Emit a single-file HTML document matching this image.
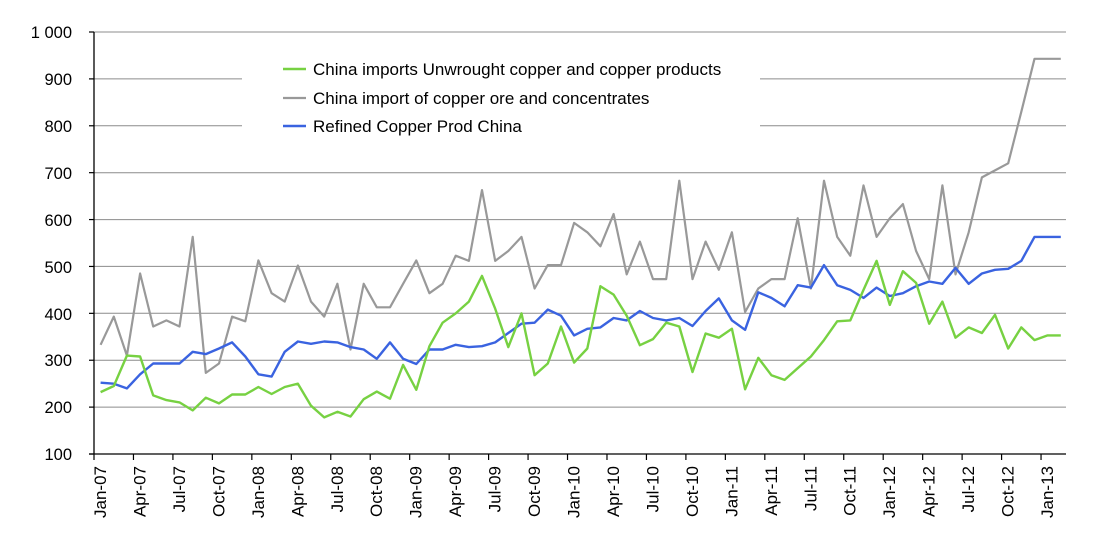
<!DOCTYPE html>
<html><head><meta charset="utf-8"><style>
html,body{margin:0;padding:0;background:#fff;}
svg{display:block;font-family:"Liberation Sans",Arial,sans-serif;}
</style></head><body>
<svg id="s" width="1105" height="557" viewBox="0 0 1105 557">
<g stroke="#8c8c8c" stroke-width="1">
<line x1="94" y1="32" x2="1066" y2="32"/>
<line x1="94" y1="78.9" x2="1066" y2="78.9"/>
<line x1="94" y1="125.8" x2="1066" y2="125.8"/>
<line x1="94" y1="172.7" x2="1066" y2="172.7"/>
<line x1="94" y1="219.6" x2="1066" y2="219.6"/>
<line x1="94" y1="266.4" x2="1066" y2="266.4"/>
<line x1="94" y1="313.3" x2="1066" y2="313.3"/>
<line x1="94" y1="360.2" x2="1066" y2="360.2"/>
<line x1="94" y1="407.1" x2="1066" y2="407.1"/>
</g>
<rect x="242" y="50" width="518" height="86" fill="#fff"/>
<g stroke="#000" stroke-width="1.3">
<line x1="94" y1="32" x2="94" y2="454"/>
<line x1="89" y1="454" x2="1066" y2="454"/>
</g>
<g id="ticks" stroke="#000" stroke-width="1.2"></g>
<g font-size="16.5" text-anchor="end" fill="#000">
<text x="72" y="38">1 000</text>
<text x="72" y="85">900</text>
<text x="72" y="132">800</text>
<text x="72" y="179">700</text>
<text x="72" y="226">600</text>
<text x="72" y="273">500</text>
<text x="72" y="320">400</text>
<text x="72" y="366">300</text>
<text x="72" y="413">200</text>
<text x="72" y="460">100</text>
</g>
<g font-size="17" text-anchor="end" fill="#000" id="xl">
<text transform="translate(106,466) rotate(-90)">Jan-07</text>
<text transform="translate(145.5,466) rotate(-90)">Apr-07</text>
<text transform="translate(184.9,466) rotate(-90)">Jul-07</text>
<text transform="translate(224.4,466) rotate(-90)">Oct-07</text>
<text transform="translate(263.8,466) rotate(-90)">Jan-08</text>
<text transform="translate(303.3,466) rotate(-90)">Apr-08</text>
<text transform="translate(342.8,466) rotate(-90)">Jul-08</text>
<text transform="translate(382.2,466) rotate(-90)">Oct-08</text>
<text transform="translate(421.7,466) rotate(-90)">Jan-09</text>
<text transform="translate(461.1,466) rotate(-90)">Apr-09</text>
<text transform="translate(500.6,466) rotate(-90)">Jul-09</text>
<text transform="translate(540.1,466) rotate(-90)">Oct-09</text>
<text transform="translate(579.5,466) rotate(-90)">Jan-10</text>
<text transform="translate(619,466) rotate(-90)">Apr-10</text>
<text transform="translate(658.4,466) rotate(-90)">Jul-10</text>
<text transform="translate(697.9,466) rotate(-90)">Oct-10</text>
<text transform="translate(737.4,466) rotate(-90)">Jan-11</text>
<text transform="translate(776.8,466) rotate(-90)">Apr-11</text>
<text transform="translate(816.3,466) rotate(-90)">Jul-11</text>
<text transform="translate(855.7,466) rotate(-90)">Oct-11</text>
<text transform="translate(895.2,466) rotate(-90)">Jan-12</text>
<text transform="translate(934.7,466) rotate(-90)">Apr-12</text>
<text transform="translate(974.1,466) rotate(-90)">Jul-12</text>
<text transform="translate(1013.6,466) rotate(-90)">Oct-12</text>
<text transform="translate(1053,466) rotate(-90)">Jan-13</text>
</g>
<polyline id="gr" fill="none" stroke="#999" stroke-width="2.2" stroke-linejoin="round"/>
<polyline id="bl" fill="none" stroke="#3a63e0" stroke-width="2.4" stroke-linejoin="round"/>
<polyline id="gn" fill="none" stroke="#77d142" stroke-width="2.4" stroke-linejoin="round"/>
<g font-size="17" fill="#000">
<line x1="283" y1="69" x2="306" y2="69" stroke="#77d142" stroke-width="2.4"/>
<text x="313" y="75">China imports Unwrought copper and copper products</text>
<line x1="283" y1="98" x2="306" y2="98" stroke="#999" stroke-width="2.2"/>
<text x="313" y="104">China import of copper ore and concentrates</text>
<line x1="283" y1="126" x2="306" y2="126" stroke="#3a63e0" stroke-width="2.4"/>
<text x="313" y="132">Refined Copper Prod China</text>
</g>
</svg>
<script>
var g=[232,245,310,308,225,215,210,193,220,208,227,227,243,228,243,250,203,178,190,180,217,233,218,290,237,330,380,400,425,480,410,328,400,268,293,372,295,325,458,440,395,332,345,380,372,275,357,348,367,238,305,268,258,283,308,343,383,385,450,512,418,490,465,378,425,348,370,358,397,325,370,343,353,353];
var r=[333,393,310,485,372,385,372,563,273,293,393,383,513,443,425,502,425,393,463,323,463,413,413,463,513,443,463,523,512,663,512,533,563,453,503,503,593,573,543,612,483,553,473,473,683,473,553,493,573,403,453,473,473,603,453,683,563,523,673,563,603,633,533,473,673,483,573,690,705,720,830,943,943,943];
var b=[252,250,240,270,293,293,293,318,313,325,338,308,270,265,318,340,335,340,338,328,323,303,338,303,292,323,323,333,328,330,338,358,378,380,408,395,353,367,370,390,385,405,390,385,390,373,405,432,385,365,445,433,415,460,455,503,460,450,433,455,437,443,458,468,463,497,463,485,493,495,512,563,563,563];
function pts(a){return a.map(function(v,i){return (100.6+i*13.153).toFixed(1)+","+(454-(v-100)*0.4688).toFixed(1)}).join(" ");}
document.getElementById('gn').setAttribute('points',pts(g));
document.getElementById('gr').setAttribute('points',pts(r));
document.getElementById('bl').setAttribute('points',pts(b));
var t=document.getElementById('ticks'),h='';
for(var i=0;i<=24;i++){var x=94+i*39.46;h+='<line x1="'+x+'" y1="454" x2="'+x+'" y2="460"/>';}
for(var j=0;j<10;j++){var y=32+j*46.89;h+='<line x1="89" y1="'+y+'" x2="94" y2="'+y+'"/>';}
t.innerHTML=h;
</script>
</body></html>
